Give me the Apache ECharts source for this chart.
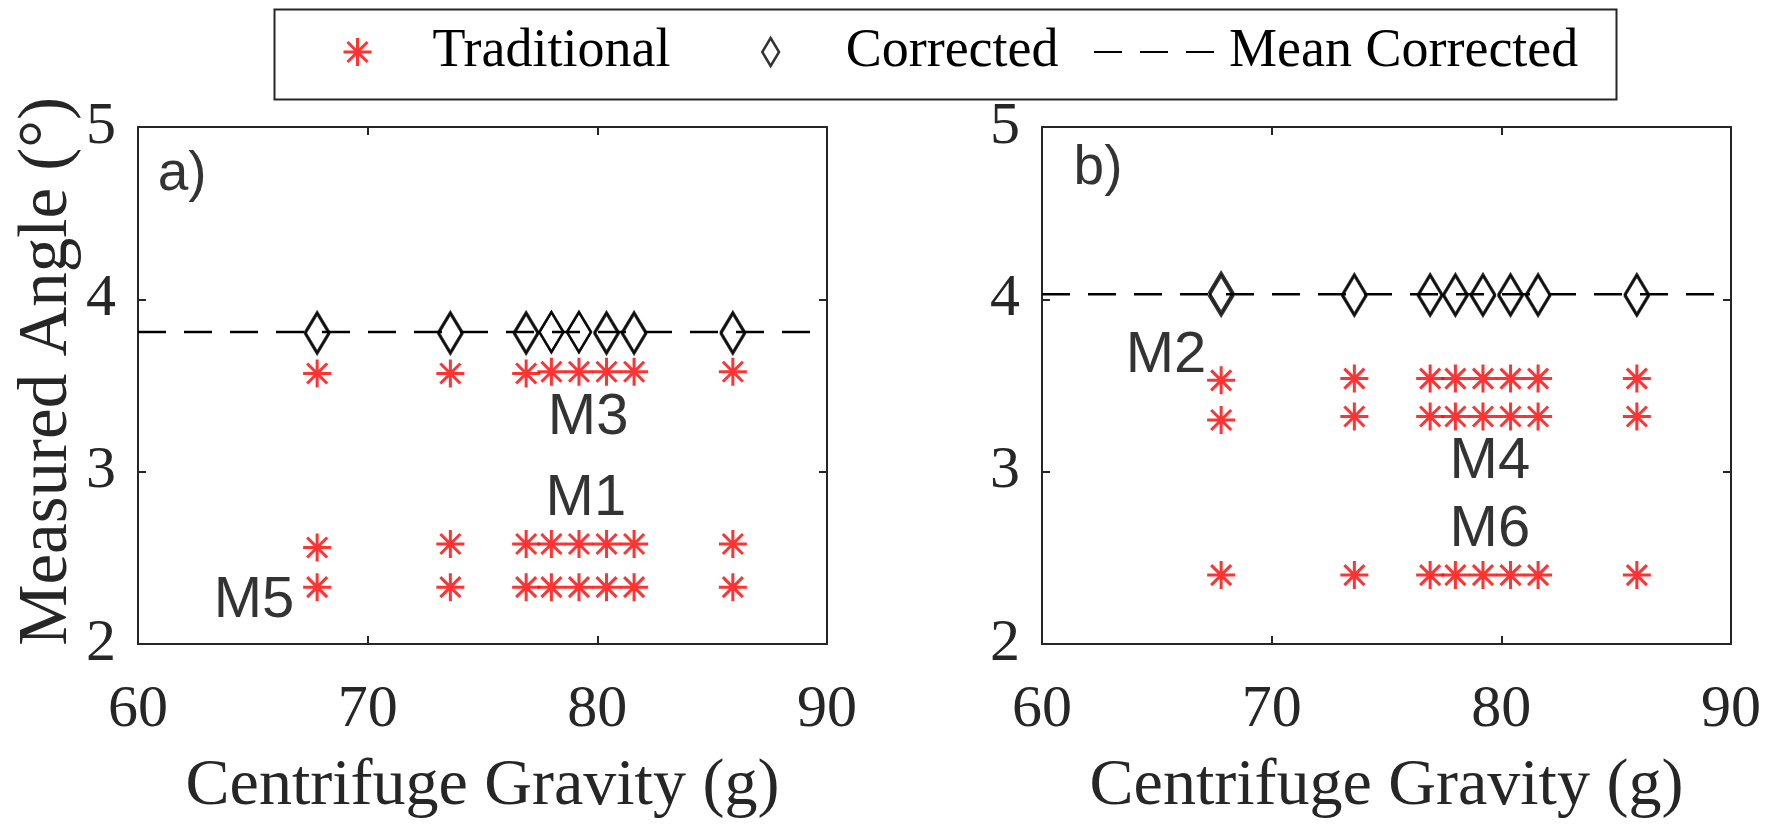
<!DOCTYPE html>
<html>
<head>
<meta charset="utf-8">
<script src="https://cdn.jsdelivr.net/npm/echarts@6/dist/echarts.min.js"></script>
<style>
html,body{margin:0;padding:0;background:#fff;}
#chart{width:1775px;height:825px;}
</style>
</head>
<body>
<div id="chart"></div>
<script>
// ---- data ----
const xGravity = [67.8, 73.6, 76.9, 78.0, 79.2, 80.4, 81.6, 85.9];
const xTicks = [60, 70, 80, 90];
const yTicks = [2, 3, 4, 5];

// panel a)
const aTradM3 = [3.57, 3.57, 3.57, 3.58, 3.58, 3.58, 3.58, 3.58];
const aTradM1 = [2.56, 2.58, 2.58, 2.58, 2.58, 2.58, 2.58, 2.58];
const aTradM5 = [2.33, 2.33, 2.33, 2.33, 2.33, 2.33, 2.33, 2.33];
const aCorr1  = [3.81, 3.81, 3.81, 3.81, 3.81, 3.81, 3.81, 3.81];
const aCorr2  = [3.80, 3.80, 3.80, 3.81, 3.81, 3.80, 3.80, 3.80];
const aMean   = 3.81;

// panel b)
const bTradM2 = [3.53, 3.54, 3.54, 3.54, 3.54, 3.54, 3.54, 3.54];
const bTradM4 = [3.30, 3.32, 3.32, 3.32, 3.32, 3.32, 3.32, 3.32];
const bTradM6 = [2.40, 2.40, 2.40, 2.40, 2.40, 2.40, 2.40, 2.40];
const bCorr1  = [4.04, 4.03, 4.03, 4.03, 4.03, 4.03, 4.03, 4.03];
const bCorr2  = [4.02, 4.02, 4.02, 4.02, 4.02, 4.02, 4.02, 4.02];
const bMean   = 4.03;

// text annotations (data coordinates)
const aNotes = [
  {name: 'M3', value: [79.6, 3.31]},
  {name: 'M1', value: [79.5, 2.84]},
  {name: 'M5', value: [65.05, 2.25]}
];
const bNotes = [
  {name: 'M2', value: [65.4, 3.67]},
  {name: 'M4', value: [79.5, 3.055]},
  {name: 'M6', value: [79.5, 2.66]}
];
const panelLabels = [
  {name: 'a)', value: [61.92, 4.72]},
  {name: 'b)', value: [62.44, 4.755]}
];
const legendNames = ['Traditional', 'Corrected', 'Mean Corrected'];

// ---- styles ----
const SERIF = "'Liberation Serif', 'Times New Roman', serif";
const SANS = "'Liberation Sans', Arial, sans-serif";
const AX = '#262626';
const STAR = 'path://M0,-14L0,14M-14,0L14,0M-10,-10L10,10M-10,10L10,-10';
const DIAM = 'path://M0,-20L12,0L0,20L-12,0Z';

function pts(ys) { return xGravity.map((x, i) => [x, ys[i]]); }

function xAx(grid, pos, withLabel) {
  return {
    type: 'value', gridIndex: grid, position: pos, min: xTicks[0], max: xTicks[xTicks.length - 1], interval: 10,
    axisLine: {show: true, onZero: false, lineStyle: {color: AX, width: 2}},
    axisTick: {show: true, inside: true, length: 8, lineStyle: {color: AX, width: 2}},
    axisLabel: {show: withLabel, fontFamily: SERIF, fontSize: 60, color: AX, margin: 36},
    splitLine: {show: false},
    name: withLabel ? 'Centrifuge Gravity (g)' : '',
    nameLocation: 'middle', nameGap: 110,
    nameTextStyle: {fontFamily: SERIF, fontSize: 66, color: AX}
  };
}
function yAx(grid, pos, withLabel, title) {
  return {
    type: 'value', gridIndex: grid, position: pos, min: yTicks[0], max: yTicks[yTicks.length - 1], interval: 1,
    axisLine: {show: true, onZero: false, lineStyle: {color: AX, width: 2}},
    axisTick: {show: true, inside: true, length: 8, lineStyle: {color: AX, width: 2}},
    axisLabel: {show: withLabel, fontFamily: SERIF, fontSize: 60, color: AX, margin: 22},
    splitLine: {show: false},
    name: title || '',
    nameLocation: 'middle', nameGap: 56,
    nameTextStyle: {fontFamily: SERIF, fontSize: 69, color: AX, padding: [0, 0, 0, 28]}
  };
}

function starSeries(xi, yi, ys) {
  return {
    type: 'scatter', name: 'Traditional', xAxisIndex: xi, yAxisIndex: yi, data: pts(ys),
    symbol: STAR, symbolSize: 28, symbolKeepAspect: true,
    itemStyle: {color: 'none', borderColor: '#ff0000', borderWidth: 3},
    z: 3, silent: true
  };
}
function diamSeries(xi, yi, ys) {
  return {
    type: 'scatter', name: 'Corrected', xAxisIndex: xi, yAxisIndex: yi, data: pts(ys),
    symbol: DIAM, symbolSize: 40, symbolKeepAspect: true,
    itemStyle: {color: 'rgba(255,255,255,0)', borderColor: '#000', borderWidth: 2.5},
    z: 4, silent: true
  };
}
function meanSeries(xi, yi, m) {
  return {
    type: 'line', name: 'Mean Corrected', xAxisIndex: xi, yAxisIndex: yi,
    data: [[xTicks[0], m], [xTicks[xTicks.length - 1], m]],
    symbol: 'circle', symbolSize: 0, showSymbol: false,
    itemStyle: {color: 'rgba(0,0,0,0)', borderWidth: 0},
    lineStyle: {color: '#000', width: 2.5, type: [28, 18]},
    z: 2, silent: true
  };
}
function noteSeries(xi, yi, notes, font, size) {
  return {
    type: 'scatter', name: '_notes', xAxisIndex: xi, yAxisIndex: yi, data: notes,
    symbol: 'circle', symbolSize: 1, itemStyle: {color: 'rgba(0,0,0,0)'},
    label: {show: true, position: 'inside', formatter: '{b}', fontFamily: font, fontSize: size, color: '#000'},
    z: 5, silent: true
  };
}
function legendFor(name, left) {
  return {
    data: [name], left: left, top: 25, orient: 'horizontal',
    itemWidth: 120, itemHeight: 28, itemGap: 0, padding: 0,
    itemStyle: {borderWidth: 'inherit'},
    textStyle: {fontFamily: SERIF, fontSize: 54, color: '#000', padding: [0, 0, 0, 10]},
    selectedMode: false
  };
}

const chart = echarts.init(document.getElementById('chart'), null, {renderer: 'canvas'});
chart.setOption({
  animation: false,
  backgroundColor: '#fff',
  grid: [
    {left: 138, top: 127, width: 689, height: 526},
    {left: 1042, top: 127, width: 689, height: 526}
  ],
  xAxis: [xAx(0, 'bottom', true), xAx(0, 'top', false), xAx(1, 'bottom', true), xAx(1, 'top', false)],
  yAxis: [yAx(0, 'left', true, 'Measured Angle (°)'), yAx(0, 'right', false), yAx(1, 'left', true), yAx(1, 'right', false)],
  legend: [legendFor(legendNames[0], 341), legendFor(legendNames[1], 761), legendFor(legendNames[2], 1093)],
  graphic: [{
    type: 'rect', left: 272, top: 7, silent: true,
    shape: {width: 1342, height: 90},
    style: {fill: 'none', stroke: AX, lineWidth: 2}
  }],
  series: [
    meanSeries(0, 0, aMean),
    starSeries(0, 0, aTradM3), starSeries(0, 0, aTradM1), starSeries(0, 0, aTradM5),
    diamSeries(0, 0, aCorr2), diamSeries(0, 0, aCorr1),
    noteSeries(0, 0, aNotes, SANS, 58),
    noteSeries(0, 0, [panelLabels[0]], SANS, 55),
    meanSeries(2, 2, bMean),
    starSeries(2, 2, bTradM2), starSeries(2, 2, bTradM4), starSeries(2, 2, bTradM6),
    diamSeries(2, 2, bCorr2), diamSeries(2, 2, bCorr1),
    noteSeries(2, 2, bNotes, SANS, 58),
    noteSeries(2, 2, [panelLabels[1]], SANS, 55)
  ]
});
</script>
</body>
</html>
